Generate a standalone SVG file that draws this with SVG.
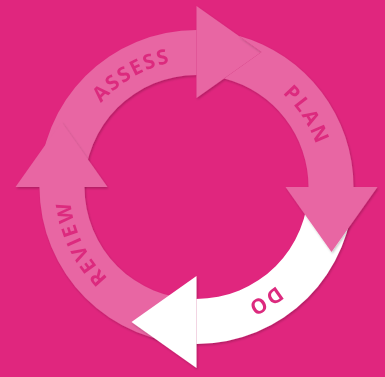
<svg xmlns="http://www.w3.org/2000/svg" xmlns:xlink="http://www.w3.org/1999/xlink" width="385" height="377" viewBox="0 0 385 377">
<style>
.band{fill:#E866A3}
.do{fill:#FFFFFF}
.lbl{font-family:"Open Sans","Liberation Sans",sans-serif;font-weight:700;font-size:20.5px;letter-spacing:2px;fill:#DC2A7E}
</style>
<defs>
<filter id="sh" x="-20%" y="-20%" width="140%" height="140%">
<feDropShadow dx="1" dy="1.5" stdDeviation="1.2" flood-color="#000000" flood-opacity="0.22"/>
</filter>
<path id="ring" d="M196.5,60 A127,127 0 1 1 196.5,314 A127,127 0 1 1 196.5,60"/>
</defs>
<rect width="385" height="377" fill="#E0267E"/>
<g id="assess" filter="url(#sh)">
<path class="band" d="M39.5,187 A157,157 0 0 1 196.5,30 L196.5,75 A112,112 0 0 0 84.5,187 Z"/>
<path class="band" d="M196.5,6 L261.5,52 L196.5,98 Z"/>
<text class="lbl"><textPath href="#ring" startOffset="731" text-anchor="middle">ASSESS</textPath></text>
</g>
<g id="review" filter="url(#sh)">
<path class="band" d="M196.5,344 A157,157 0 0 1 39.5,187 L84.5,187 A112,112 0 0 0 196.5,299 Z"/>
<path class="band" d="M15.5,187 L61.5,122 L107.5,187 Z"/>
<text class="lbl"><textPath href="#ring" startOffset="541" text-anchor="middle">REVIEW</textPath></text>
</g>
<g id="do" filter="url(#sh)">
<path class="do" d="M353.5,187 A157,157 0 0 1 196.5,344 L196.5,299 A112,112 0 0 0 308.5,187 Z"/>
<path class="do" d="M196.5,368 L131.5,322 L196.5,276 Z"/>
<text class="lbl"><textPath href="#ring" startOffset="330" text-anchor="middle">DO</textPath></text>
</g>
<g id="plan" filter="url(#sh)">
<path class="band" d="M238.5,35.7 A157,157 0 0 1 353.5,187 L308.5,187 A112,112 0 0 0 224.1,78.5 L261.5,52 Z"/>
<path class="band" d="M285.5,187 L377.5,187 L331.5,252 Z"/>
<text class="lbl"><textPath href="#ring" startOffset="126" text-anchor="middle">PLAN</textPath></text>
</g>
</svg>
